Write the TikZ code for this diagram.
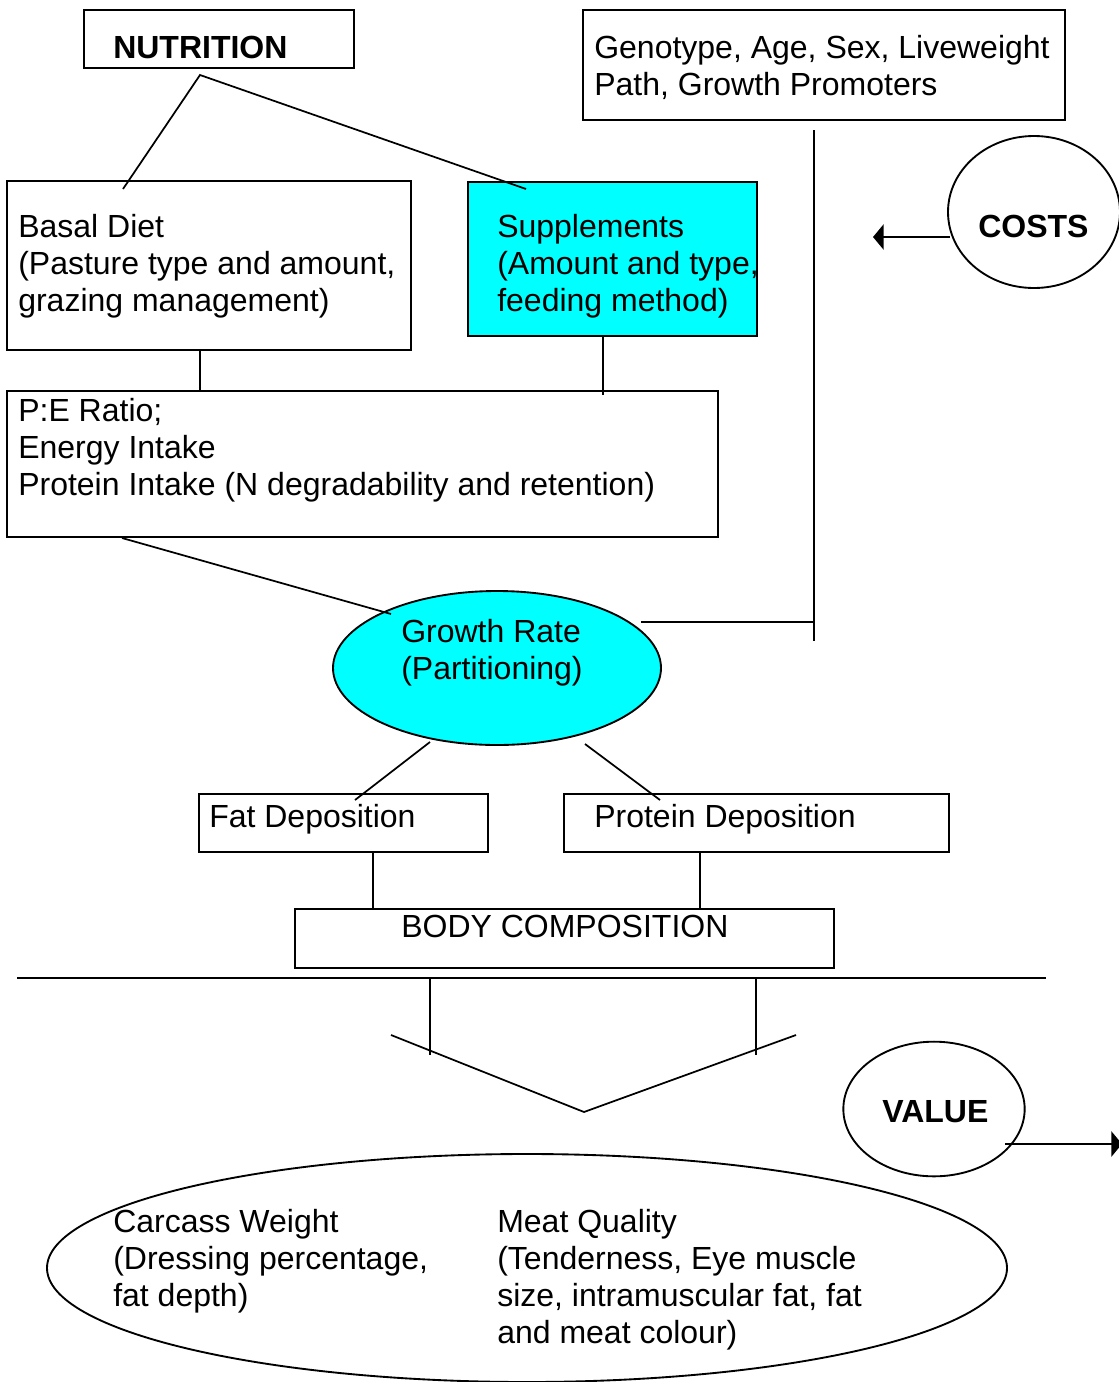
\documentclass[tikz,border=0pt]{standalone}
\usepackage{fontspec}
\setmainfont{Liberation Sans}
\usetikzlibrary{shapes.geometric,fit,arrows.meta}
\definecolor{boxcyan}{RGB}{0,255,255}
\tikzset{
  box/.style={draw, line width=1.6pt, inner sep=0pt},
  oval/.style={draw, ellipse, line width=1.4pt, inner sep=0pt},
  link/.style={line width=1.3pt},
  txt/.style={anchor=base west, inner sep=0pt, align=left, font=\fontsize{24}{27.75}\selectfont},
  boldtxt/.style={txt, font=\fontsize{24}{27.75}\selectfont\bfseries},
}
\begin{document}
\begin{tikzpicture}[x=0.75pt,y=0.75pt,yscale=-1,xscale=1]
    \useasboundingbox (0,0) rectangle (1119,1382);
    % Boxes
    \node[box, fit={(84,10) (354,68)}] (nutrition) {};
    \node[box, fit={(583,10) (1065,120)}] (genotype) {};
    \node[box, fit={(7,181) (411,350)}] (basal) {};
    \node[box, fill=boxcyan, fit={(468,182) (757,336)}] (supplements) {};
    \node[box, fit={(7,391) (718,537)}] (intake) {};
    \node[box, fit={(199,794) (488,852)}] (fat) {};
    \node[box, fit={(564,794) (949,852)}] (protein) {};
    \node[box, fit={(295,909) (834,968)}] (body) {};
    % Ellipses
    \node[oval, fill=boxcyan, minimum width=246pt, minimum height=115.5pt] (growth) at (497,668) {};
    \node[oval, minimum width=129pt, minimum height=114pt] (costs) at (1034,212) {};
    \node[oval, minimum width=136pt, minimum height=101pt] (value) at (934,1109) {};
    \node[oval, minimum width=720pt, minimum height=171pt] (carcass) at (527,1268) {};

    % Connector ends
    \coordinate (nutfork) at (200,75);
    \coordinate (basaltop) at (123,189);
    \coordinate (supptop) at (526,189);
    \coordinate (suppdrop) at (603,395);
    \coordinate (genodrop) at (814,130);
    \coordinate (genoend) at (814,641);
    \coordinate (growthjoin) at (641,622);
    \coordinate (intakeout) at (122,538);
    \coordinate (growthin) at (391,614);
    \coordinate (growthl) at (430,742);
    \coordinate (fatin) at (355,800);
    \coordinate (growthr) at (585,744);
    \coordinate (proteinin) at (660,800);
    \coordinate (fatdrop) at (373,852);
    \coordinate (proteindrop) at (700,852);
    \coordinate (rulel) at (17,978);
    \coordinate (ruler) at (1046,978);
    \coordinate (dropl) at (430,1055);
    \coordinate (dropr) at (756,1055);
    \coordinate (vleft) at (391,1035);
    \coordinate (vtip) at (584,1112);
    \coordinate (vright) at (796,1035);
    \coordinate (costsout) at (950,237);
    \coordinate (costsend) at (873,237);
    \coordinate (valueout) at (1005,1144);
    \coordinate (valueend) at (1122,1144);

    % Straight Lines
    \draw[link] (basaltop) -- (nutfork) -- (supptop);
    \draw[link] (basal.south -| nutfork) -- (intake.north -| nutfork);
    \draw[link] (supplements.south -| suppdrop) -- (suppdrop);
    \draw[link] (genodrop) -- (genoend);
    \draw[link] (growthjoin) -- (growthjoin -| genodrop);
    \draw[link] (intakeout) -- (growthin);
    \draw[link] (growthl) -- (fatin);
    \draw[link] (growthr) -- (proteinin);
    \draw[link] (fatdrop) -- (body.north -| fatdrop);
    \draw[link] (proteindrop) -- (body.north -| proteindrop);
    \draw[line width=1.8pt] (rulel) -- (ruler);
    \draw[link] (rulel -| dropl) -- (dropl);
    \draw[link] (ruler -| dropr) -- (dropr);
    \draw[link] (vleft) -- (vtip) -- (vright);
    \draw[link, -{Triangle[length=8pt,width=19pt]}] (costsout) -- (costsend);
    \draw[link, -{Triangle[length=8pt,width=19pt]}] (valueout) -- (valueend);

    % Text Nodes
    \node[boldtxt] (nutritiontxt) at (113,58) {NUTRITION};
    \node[txt] (genotypetxt) at (594,95) {Genotype, Age, Sex, Liveweight\\Path, Growth Promoters};
    \node[txt] (basaltxt) at (18,311) {Basal Diet\\(Pasture type and amount,\\grazing management)};
    \node[txt] (supplementstxt) at (497,311) {Supplements\\(Amount and type,\\feeding method)};
    \node[txt] (intaketxt) at (18,495) {P:E Ratio;\\Energy Intake\\Protein Intake (N degradability and retention)};
    \node[txt] (growthtxt) at (401,679) {Growth Rate\\(Partitioning)};
    \node[txt] (fattxt) at (209,827) {Fat Deposition};
    \node[txt] (proteintxt) at (594,827) {Protein Deposition};
    \node[txt] (bodytxt) at (401,937) {BODY COMPOSITION};
    \node[boldtxt] (coststxt) at (978,237) {COSTS};
    \node[boldtxt] (valuetxt) at (882,1122) {VALUE};
    \node[txt] (carcasstxt) at (113,1306) {Carcass Weight\\(Dressing percentage,\\fat depth)};
    \node[txt] (meattxt) at (497,1343) {Meat Quality\\(Tenderness, Eye muscle\\size, intramuscular fat, fat\\and meat colour)};
\end{tikzpicture}
\end{document}
